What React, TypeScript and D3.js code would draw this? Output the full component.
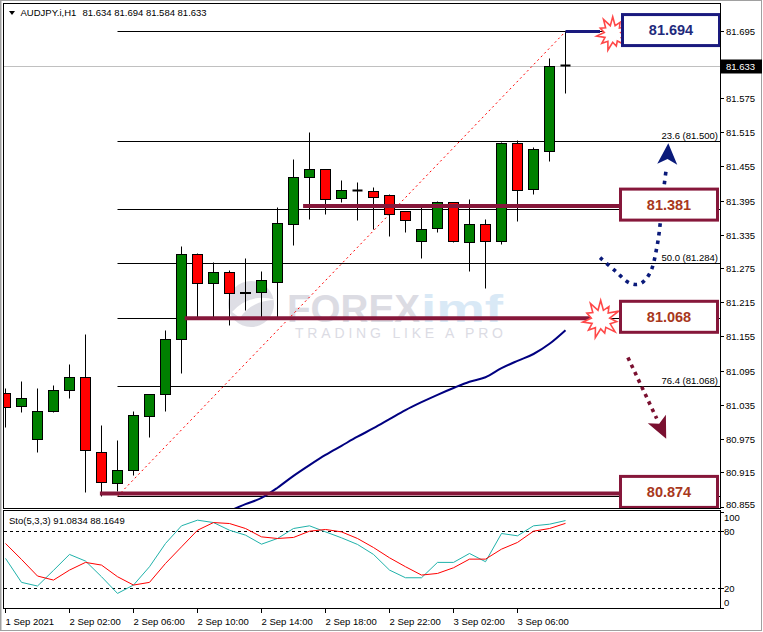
import React from "react";
import * as d3 from "d3";

// ---------- data ----------
const symbolName = "AUDJPY.i,H1";
const headerOHLC = ["81.634", "81.694", "81.584", "81.633"];

const opens = [81.056, 81.032, 80.975, 81.024, 81.061, 81.084, 80.952, 80.897, 80.919, 81.014, 81.053, 81.150, 81.301, 81.249, 81.268, 81.231, 81.234, 81.252, 81.354, 81.436, 81.451, 81.399, 81.413, 81.411, 81.404, 81.376, 81.324, 81.347, 81.392, 81.321, 81.353, 81.323, 81.497, 81.416, 81.483, 81.634];
const highs = [81.065, 81.076, 81.065, 81.070, 81.107, 81.160, 80.998, 80.973, 81.023, 81.054, 81.167, 81.314, 81.303, 81.286, 81.273, 81.294, 81.271, 81.383, 81.469, 81.515, 81.451, 81.432, 81.427, 81.418, 81.407, 81.377, 81.383, 81.395, 81.393, 81.397, 81.362, 81.499, 81.501, 81.490, 81.646, 81.694];
const lows = [80.996, 81.021, 80.952, 81.021, 81.046, 80.880, 80.874, 80.882, 80.910, 80.977, 81.023, 81.091, 81.190, 81.190, 81.176, 81.201, 81.190, 81.185, 81.316, 81.363, 81.372, 81.393, 81.360, 81.344, 81.333, 81.339, 81.293, 81.340, 81.321, 81.271, 81.240, 81.319, 81.358, 81.407, 81.464, 81.584];
const closes = [81.030, 81.047, 81.024, 81.061, 81.084, 80.954, 80.899, 80.920, 81.016, 81.054, 81.150, 81.301, 81.250, 81.268, 81.231, 81.234, 81.254, 81.356, 81.436, 81.451, 81.397, 81.414, 81.413, 81.402, 81.372, 81.360, 81.344, 81.393, 81.323, 81.353, 81.323, 81.497, 81.414, 81.485, 81.632, 81.633];

const maValues: (number | null)[] = [null, null, null, null, null, null, null, null, null, null, null, null, null, null,
  80.848, 80.860, 80.871, 80.889, 80.910, 80.929, 80.947, 80.963, 80.979, 80.994, 81.010, 81.026, 81.040, 81.053, 81.065, 81.076, 81.084, 81.100, 81.113, 81.125, 81.143, 81.167];

const stochK = [51.7, 26.7, 22.9, 39.2, 55.8, 48.9, 32.6, 15.2, 23.9, 43, 67.2, 85.6, 91.5, 89, 81, 75.9, 66.5, 72.4, 82.8, 85.6, 79.3, 73.1, 66.2, 55.8, 39.5, 31.5, 31.5, 47.5, 47.5, 56.8, 48.2, 77.6, 75.2, 85.6, 87.3, 91.08];
const stochD = [67.2, 50.6, 33.3, 29.1, 39.5, 47.5, 44.7, 32.6, 23.9, 26.7, 46.4, 63.7, 81, 89, 88, 82.8, 74.1, 72.4, 73.5, 80, 81.8, 79.3, 72.4, 63, 52.3, 43, 34.3, 36, 41.9, 50.9, 50.9, 61.3, 68.3, 80, 82.8, 88.16];
const stochLabel = "Sto(5,3,3) 91.0834 88.1649";

const priceTicks = [80.855, 80.915, 80.975, 81.035, 81.095, 81.155, 81.215, 81.275, 81.335, 81.395, 81.455, 81.515, 81.575, 81.695];
const currentPrice = 81.633;
const timeTickIdx = [0, 4, 8, 12, 16, 20, 24, 28, 32];
const timeLabels = ["1 Sep 2021", "2 Sep 02:00", "2 Sep 06:00", "2 Sep 10:00", "2 Sep 14:00", "2 Sep 18:00", "2 Sep 22:00", "3 Sep 02:00", "3 Sep 06:00"];
const stochTicks = [100, 80, 20, 0];
const stochLevels = [80, 20];

const fibHigh = 81.694;
const fibLow = 80.874;
const fibLevels = [0, 23.6, 38.2, 50, 61.8, 76.4, 100];
const fibLabelled = [23.6, 50, 76.4];

// annotation levels
const levelLabels = ["81.694", "81.381", "81.068", "80.874"];
const levelLinePrices = [81.694, 81.386, 81.188, 80.879];
const levelLineStart = [35, 18.6, 11.2, 5.9];

// dotted arrows in (bar, price) units
const upArrowPts: [number, number][] = [[37.16, 81.295], [38.09, 81.272], [39.03, 81.250], [39.66, 81.249], [40.28, 81.268], [40.72, 81.315], [40.97, 81.368], [41.16, 81.421], [41.3, 81.452]];
const downArrowPts: [number, number][] = [[38.9, 81.119], [40.7, 81.011]];

// ---------- scales ----------
const xScale = d3.scaleLinear().domain([0, 35]).range([5.5, 565.5]);
const yScale = d3.scaleLinear().domain([80.855, 81.695]).range([507, 31]);
const sScale = d3.scaleLinear().domain([0, 100]).range([608, 512]);

const FONT = "'Liberation Sans', Arial, sans-serif";
const crisp = (v: number) => Math.round(v - 0.5) + 0.5;

function starPath(cx: number, cy: number, R: number) {
  const mult = [1, 0.5, 0.8, 0.52, 1.05, 0.48, 0.85, 0.55, 1, 0.5, 0.75, 0.5, 1.0, 0.52, 0.85, 0.5, 0.95, 0.5, 0.8, 0.55, 1.0, 0.5];
  const n = mult.length;
  const pts = mult.map((m, i) => {
    const a = (i / n) * Math.PI * 2 - Math.PI / 2;
    return [cx + Math.cos(a) * R * m, cy + Math.sin(a) * R * m];
  });
  return "M" + pts.map((p) => p[0].toFixed(1) + "," + p[1].toFixed(1)).join("L") + "Z";
}

function headPath(tx: number, ty: number, fx: number, fy: number, len: number, hw: number) {
  const dx = tx - fx, dy = ty - fy;
  const L = Math.hypot(dx, dy);
  const ux = dx / L, uy = dy / L;
  const bx = tx - ux * len, by = ty - uy * len;
  const px = -uy, py = ux;
  const nx = tx - ux * len * 0.75, ny = ty - uy * len * 0.75;
  return `M${tx},${ty}L${bx + px * hw},${by + py * hw}L${nx},${ny}L${bx - px * hw},${by - py * hw}Z`;
}

export default function App() {
  const n = opens.length;
  const idx = d3.range(n);
  const fmt = d3.format(".3f");

  const maLine = d3.line<number | null>()
    .defined((d) => d !== null)
    .x((_, i) => xScale(i))
    .y((d) => yScale(d as number))
    .curve(d3.curveMonotoneX)(maValues);

  const kLine = d3.line<number>().x((_, i) => xScale(i)).y((d) => sScale(d))(stochK);
  const dLine = d3.line<number>().x((_, i) => xScale(i)).y((d) => sScale(d))(stochD);

  const upLine = d3.line<[number, number]>().x((d) => xScale(d[0])).y((d) => yScale(d[1])).curve(d3.curveCatmullRom)(upArrowPts);
  const upLast = upArrowPts[upArrowPts.length - 1];
  const upTipX = xScale(upLast[0]) + 2, upTipY = yScale(81.497);
  const dn0 = downArrowPts[0], dn1 = downArrowPts[1];
  const dnX0 = xScale(dn0[0]), dnY0 = yScale(dn0[1]);
  const dnX1 = xScale(dn1[0]), dnY1 = yScale(dn1[1]);
  const dnTipX = dnX0 + (dnX1 - dnX0) * 1.33, dnTipY = dnY0 + (dnY1 - dnY0) * 1.33;

  const fibRange = fibHigh - fibLow;

  return (
    <svg width={763} height={632} style={{ position: "absolute", left: 0, top: 0, background: "#fff" }} fontFamily={FONT}>
      <defs>
        <clipPath id="mainClip"><rect x={4} y={4} width={716} height={504} /></clipPath>
        <clipPath id="stoClip"><rect x={4} y={511} width={716} height={97} /></clipPath>
      </defs>
      {/* outer frame */}
      <rect x={0.5} y={0.5} width={761} height={630} fill="#fff" stroke="#a0a0a0" />
      <line x1={1.5} y1={1} x2={1.5} y2={630} stroke="#d0d0d0" />

      {/* main panel */}
      <g clipPath="url(#mainClip)">
        {/* watermark */}
        <g opacity={0.85}>
          <circle cx={251} cy={304} r={23} fill="#d9d9e1" />
          <path d="M232,312 Q250,292 276,300 Q252,300 240,318 Z" fill="#fff" />
          <text x={287} y={322} fontSize={38} fontWeight={900} fill="#d6d6df" textLength={133} lengthAdjust="spacingAndGlyphs">FOREX</text>
          <text x={421} y={322} fontSize={38} fontWeight={900} fill="#d3e6f5" textLength={82} lengthAdjust="spacingAndGlyphs">imf</text>
          <text x={295} y={338} fontSize={14} fill="#d6d6df" textLength={208} lengthAdjust="spacing">TRADING LIKE A PRO</text>
        </g>

        {/* current price line */}
        <line x1={4} x2={720} y1={crisp(yScale(currentPrice))} y2={crisp(yScale(currentPrice))} stroke="#c0c0c0" />

        {/* fibonacci lines */}
        {fibLevels.map((lv, i) => {
          const p = fibHigh - (lv / 100) * fibRange;
          const y = crisp(yScale(p));
          return (
            <g key={"fib" + i}>
              <line x1={xScale(7)} x2={720} y1={y} y2={y} stroke="#000" />
              {fibLabelled.includes(lv) && (
                <text x={718} y={y - 2.5} fontSize={9.5} textAnchor="end" fill="#000">{lv.toFixed(1)} ({fmt(p)})</text>
              )}
            </g>
          );
        })}

        {/* trend line */}
        <line x1={xScale(7)} y1={yScale(fibLow)} x2={xScale(35)} y2={yScale(fibHigh)} stroke="#ff0000" strokeDasharray="2 3" />

        {/* moving average */}
        <path d={maLine || ""} fill="none" stroke="#000080" strokeWidth={2} />

        {/* candles */}
        {idx.map((i) => {
          const cx = xScale(i);
          const o = opens[i], c = closes[i];
          const yTop = crisp(yScale(Math.max(o, c)));
          const yBot = crisp(yScale(Math.min(o, c)));
          const doji = Math.abs(o - c) < 0.0015;
          return (
            <g key={"c" + i}>
              <line x1={cx} x2={cx} y1={crisp(yScale(highs[i]))} y2={crisp(yScale(lows[i]))} stroke="#000" />
              {doji ? (
                <line x1={cx - 5} x2={cx + 5} y1={yTop} y2={yTop} stroke="#000" strokeWidth={2} />
              ) : (
                <rect x={cx - 5} y={yTop} width={10} height={Math.max(1, yBot - yTop)} fill={c > o ? "#008000" : "#ff0000"} stroke="#000" />
              )}
            </g>
          );
        })}

        {/* level lines */}
        {levelLinePrices.map((p, i) => {
          const y = yScale(p);
          const x1 = xScale(levelLineStart[i]);
          const x2 = i === 0 ? 600 : i === 2 ? 592 : 620;
          return <line key={"lv" + i} x1={x1} x2={x2} y1={y} y2={y} stroke={i === 0 ? "#1a1a7e" : "#86173a"} strokeWidth={i === 0 ? 3 : 4} />;
        })}

        {/* starbursts */}
        <path d={starPath(xScale(37.95), yScale(81.69), 17)} fill="#fff" stroke="#ff4848" strokeWidth={1.6} />
        <path d={starPath(xScale(37.2), yScale(81.186), 19)} fill="#fff" stroke="#ff4848" strokeWidth={1.6} />

        {/* dotted arrows */}
        <path d={upLine || ""} fill="none" stroke="#0a1a7a" strokeWidth={3.6} strokeDasharray="3.6 5" />
        <path d={headPath(upTipX, upTipY, upTipX - 1, upTipY + 20, 21, 10)} fill="#0a1a7a" />
        <line x1={dnX0} y1={dnY0} x2={dnX1} y2={dnY1} stroke="#7a1030" strokeWidth={3.6} strokeDasharray="3.6 4.5" />
        <path d={headPath(dnTipX, dnTipY, dnX0, dnY0, 22, 10)} fill="#7a1030" />

        {/* boxes */}
        {levelLabels.map((lab, i) => {
          const cy = yScale(levelLinePrices[i]) - 1.5;
          const navy = i === 0;
          return (
            <g key={"box" + i}>
              <rect x={navy ? 622.5 : 620.5} y={cy - 15.5} width={97} height={31} fill="#fff" stroke={navy ? "#1a1a7e" : "#86173a"} strokeWidth={3} />
              <text x={navy ? 671 : 669} y={cy + 5} fontSize={14.5} fontWeight={700} textAnchor="middle" fill={navy ? "#1f2a7c" : "#a8381c"}>{lab}</text>
            </g>
          );
        })}
      </g>

      {/* header */}
      <path d="M9,11 L15,11 L12,15 Z" fill="#000" />
      <text x={20.5} y={16} fontSize={9.5} fill="#000">{symbolName}</text>
      <text x={82.5} y={16} fontSize={9.5} fill="#000">{headerOHLC.join(" ")}</text>

      {/* main panel frame */}
      <rect x={3.5} y={3.5} width={717} height={505} fill="none" stroke="#000" />

      {/* price axis */}
      {priceTicks.map((p, i) => {
        const y = crisp(yScale(p));
        const ly = Math.min(y, 504.5);
        return (
          <g key={"pt" + i}>
            <line x1={720} x2={724} y1={y} y2={y} stroke="#000" />
            <text x={726} y={ly + 3.5} fontSize={9.5} fill="#000">{fmt(p)}</text>
          </g>
        );
      })}
      <rect x={721} y={crisp(yScale(currentPrice)) - 7} width={41} height={14} fill="#000" />
      <text x={726} y={crisp(yScale(currentPrice)) + 3.5} fontSize={9.5} fill="#fff">{fmt(currentPrice)}</text>

      {/* stochastic panel */}
      {stochLevels.map((lv) => (
        <line key={"sl" + lv} x1={4} x2={720} y1={crisp(sScale(lv))} y2={crisp(sScale(lv))} stroke="#000" strokeDasharray="3 3" />
      ))}
      <g clipPath="url(#stoClip)">
        <path d={kLine || ""} fill="none" stroke="#20b2aa" />
        <path d={dLine || ""} fill="none" stroke="#ff0000" />
      </g>
      <text x={9} y={524} fontSize={9.5} fill="#000">{stochLabel}</text>
      <rect x={3.5} y={510.5} width={717} height={98} fill="none" stroke="#000" />
      {stochTicks.map((v) => {
        const y = sScale(v);
        const ly = Math.max(517, Math.min(602, y));
        return (
          <g key={"st" + v}>
            <line x1={720} x2={724} y1={crisp(y)} y2={crisp(y)} stroke="#000" />
            <text x={724} y={ly + 3.5} fontSize={9.5} fill="#000">{v}</text>
          </g>
        );
      })}

      {/* time axis */}
      {timeTickIdx.map((ti, i) => {
        const x = xScale(ti);
        return (
          <g key={"tt" + i}>
            <line x1={x} x2={x} y1={608} y2={613} stroke="#000" />
            <text x={x} y={625} fontSize={9.5} fill="#000">{timeLabels[i]}</text>
          </g>
        );
      })}
    </svg>
  );
}
